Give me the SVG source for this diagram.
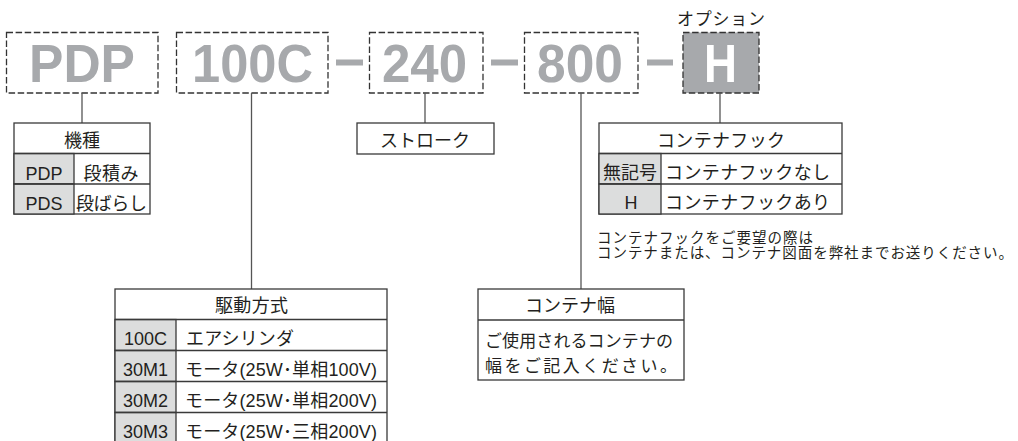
<svg xmlns="http://www.w3.org/2000/svg" width="1018" height="441" viewBox="0 0 1018 441">
<style>
text{font-family:"Liberation Sans","Noto Sans CJK JP",sans-serif;fill:#231f20}
.big{font-size:54px;font-weight:bold;fill:#a7a9ac;text-anchor:middle}
.dash{fill:none;stroke:#333;stroke-width:1.3;stroke-dasharray:6.5 2.6}
.bar{fill:#a7a9ac}
.tb{fill:#fff;stroke:#3a3a3a;stroke-width:1.3}
.cell{fill:#dcdddd;stroke:#3a3a3a;stroke-width:1.3}
.ln{stroke:#3a3a3a;stroke-width:1.3}
.t{font-size:18px}
.m{text-anchor:middle}
.n{font-size:14.5px}
.conn line{stroke:#555;stroke-width:1.3}
</style>

<g id="code-pdp">
<rect class="dash" x="6.5" y="32.5" width="151.5" height="60.5"/>
<text class="big" x="82" y="82" textLength="106" lengthAdjust="spacingAndGlyphs">PDP</text>
</g>
<g id="code-100c">
<rect class="dash" x="176.5" y="32.5" width="151.5" height="60.5"/>
<text class="big" x="252.5" y="82" textLength="121" lengthAdjust="spacingAndGlyphs">100C</text>
</g>
<rect class="bar" x="336" y="59.5" width="27" height="6"/>
<g id="code-240">
<rect class="dash" x="369.5" y="32.5" width="113.5" height="60.5"/>
<text class="big" x="424.5" y="82" textLength="85" lengthAdjust="spacingAndGlyphs">240</text>
</g>
<rect class="bar" x="491" y="59.5" width="27" height="6"/>
<g id="code-800">
<rect class="dash" x="524.5" y="32.5" width="113.5" height="60.5"/>
<text class="big" x="580" y="82" textLength="86" lengthAdjust="spacingAndGlyphs">800</text>
</g>
<rect class="bar" x="647" y="59.5" width="26" height="6"/>
<g id="code-h">
<rect x="683" y="32.5" width="76" height="60.5" fill="#a7a9ac"/>
<rect class="dash" x="683" y="32.5" width="76" height="60.5"/>
<text class="big" x="720.5" y="82" style="fill:#fff" textLength="33" lengthAdjust="spacingAndGlyphs">H</text>
<text class="t" x="677" y="25" style="font-size:17px" textLength="88">オプション</text>
</g>

<g class="conn" id="connectors">
<line x1="82" y1="93" x2="82" y2="123"/>
<line x1="251.5" y1="93" x2="251.5" y2="289"/>
<line x1="425" y1="93" x2="425" y2="123"/>
<line x1="581" y1="93" x2="581" y2="289"/>
<line x1="720" y1="93" x2="720" y2="123"/>
</g>

<g id="table-kishu">
<rect class="tb" x="14" y="123" width="136" height="91"/>
<rect class="cell" x="14" y="153.5" width="60" height="30.5"/>
<rect class="cell" x="14" y="184" width="60" height="30"/>
<line class="ln" x1="14" y1="153.5" x2="150" y2="153.5"/>
<line class="ln" x1="14" y1="184" x2="150" y2="184"/>
<text class="t m" x="82" y="147">機種</text>
<text class="t m" x="44" y="180">PDP</text>
<text class="t m" x="111" y="180" textLength="55">段積み</text>
<text class="t m" x="44" y="210">PDS</text>
<text class="t m" x="111.5" y="210" textLength="71">段ばらし</text>
</g>

<g id="box-stroke">
<rect class="tb" x="357" y="123" width="137" height="31"/>
<text class="t m" x="425" y="147" textLength="90">ストローク</text>
</g>

<g id="table-hook">
<rect class="tb" x="599" y="123" width="243" height="91"/>
<rect class="cell" x="599" y="153.5" width="62" height="30.5"/>
<rect class="cell" x="599" y="184" width="62" height="30"/>
<line class="ln" x1="599" y1="153.5" x2="842" y2="153.5"/>
<line class="ln" x1="599" y1="184" x2="842" y2="184"/>
<text class="t m" x="721" y="147" textLength="128">コンテナフック</text>
<text class="t" x="603" y="179" textLength="54">無記号</text>
<text class="t m" x="631" y="209">H</text>
<text class="t" x="665" y="179" textLength="165">コンテナフックなし</text>
<text class="t" x="665" y="209" textLength="165">コンテナフックあり</text>
<text class="n" x="597" y="243" textLength="216">コンテナフックをご要望の際は</text>
<text class="n" x="597" y="258" textLength="416">コンテナまたは、コンテナ図面を弊社までお送りください。</text>
</g>

<g id="table-drive">
<rect class="tb" x="115" y="289" width="272" height="153"/>
<rect class="cell" x="115" y="319.5" width="61" height="31"/>
<rect class="cell" x="115" y="350.5" width="61" height="31"/>
<rect class="cell" x="115" y="381.5" width="61" height="31"/>
<rect class="cell" x="115" y="412.5" width="61" height="30"/>
<line class="ln" x1="115" y1="319.5" x2="387" y2="319.5"/>
<line class="ln" x1="115" y1="350.5" x2="387" y2="350.5"/>
<line class="ln" x1="115" y1="381.5" x2="387" y2="381.5"/>
<line class="ln" x1="115" y1="412.5" x2="387" y2="412.5"/>
<text class="t m" x="251.5" y="312" textLength="73">駆動方式</text>
<text class="t m" x="145.5" y="345">100C</text>
<text class="t m" x="145.5" y="376">30M1</text>
<text class="t m" x="145.5" y="407">30M2</text>
<text class="t m" x="145.5" y="438">30M3</text>
<text class="t" x="186" y="345" textLength="108">エアシリンダ</text>
<text class="t" x="185" y="376" textLength="192">モータ(25W･単相100V)</text>
<text class="t" x="185" y="407" textLength="192">モータ(25W･単相200V)</text>
<text class="t" x="185" y="438" textLength="192">モータ(25W･三相200V)</text>
</g>

<g id="box-width">
<rect class="tb" x="478" y="289" width="206" height="91"/>
<line class="ln" x1="478" y1="320" x2="684" y2="320"/>
<text class="t" x="525" y="312" textLength="90">コンテナ幅</text>
<text class="t" x="485" y="347" style="font-size:17px" textLength="188">ご使用されるコンテナの</text>
<text class="t" x="485" y="372" style="font-size:17px" textLength="192">幅をご記入ください。</text>
</g>
</svg>
